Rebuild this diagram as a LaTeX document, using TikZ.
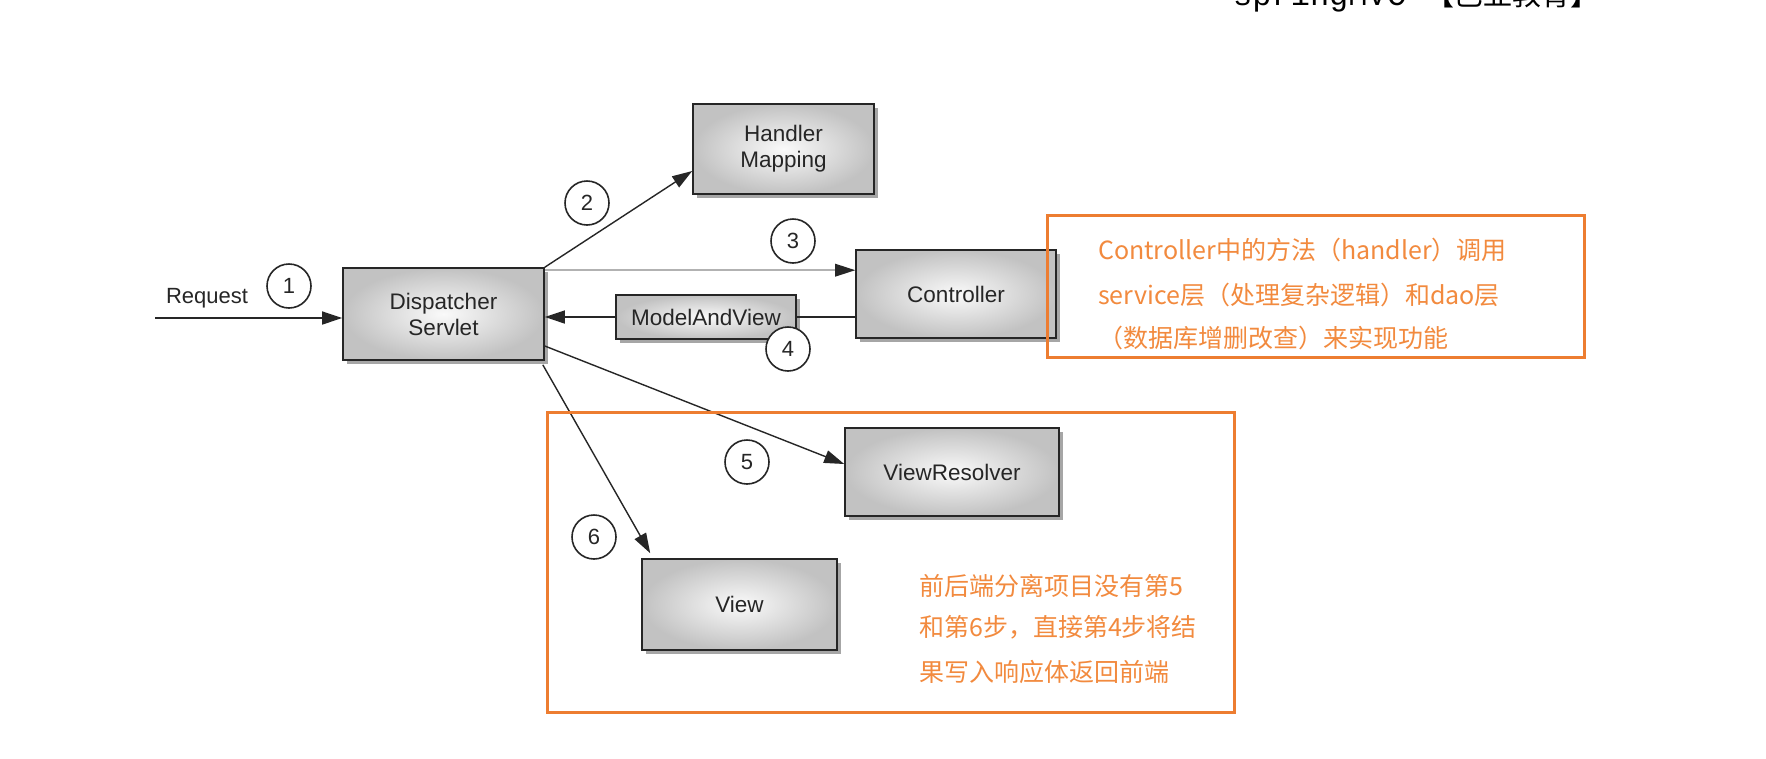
\documentclass[tikz,border=0pt]{standalone}
\usepackage{fontspec}
\setmainfont{Liberation Sans}
\newfontfamily\cjk{Noto Sans CJK SC}
\newfontfamily\monof{Liberation Mono}
\usetikzlibrary{arrows.meta,calc}
\definecolor{orline}{RGB}{237,125,49}
\definecolor{ortext}{RGB}{242,138,62}
\tikzset{
  box/.style={draw=black!85, line width=1.6pt, inner color=gray!4, outer color=gray!48,
    inner sep=0pt, align=center, text=black!85, font=\fontsize{22.5}{26}\selectfont,
    preaction={fill=gray!70, transform canvas={xshift=4pt, yshift=-4pt}}},
  num/.style={circle, draw=black!85, line width=1.6pt, minimum size=44pt, inner sep=0pt,
    fill=white, font=\fontsize{22}{24}\selectfont, text=black!85},
  arr/.style={-{Triangle[length=20pt,width=13pt]}, line width=1.4pt, draw=black!85},
  obox/.style={draw=orline, line width=3pt},
  otext/.style={text=ortext, font=\cjk\fontsize{25}{28}\selectfont, anchor=base west, inner sep=0pt},
}
\begin{document}
\begin{tikzpicture}[x=1pt,y=-1pt]
\clip (0,0) rectangle (1766,758);
\fill[white] (0,0) rectangle (1766,758);

% top (cut-off) title
\node[anchor=base west, inner sep=0pt] (title) at (1233,5)
  {\monof\fontsize{32}{34}\selectfont springMVC {\cjk\fontsize{29}{34}\selectfont 【巴亚教育】}};

% boxes
\node[box, minimum width=181pt, minimum height=90pt] (hm) at (783.5,149) {Handler\\Mapping};
\node[box, minimum width=201pt, minimum height=92pt] (ds) at (443.5,314) {Dispatcher\\Servlet};
\node[box, minimum width=200pt, minimum height=88pt] (ctl) at (956,294) {Controller};
\node[box, minimum width=214pt, minimum height=88pt] (vr) at (952,472) {ViewResolver};
\node[box, minimum width=195pt, minimum height=91pt] (vw) at (739.5,604.5) {View};

% request
\coordinate (req) at (155,318);
\node[font=\fontsize{22}{24}\selectfont, text=black!85, inner sep=0pt] (reqt) at (207,298) {Request};
\draw[arr] (req) -- (req -| ds.west);

% step 2
\draw[arr] (ds.north east) -- ([yshift=-22pt]hm.west);
% step 3
\draw[line width=2pt, draw=gray!60]
  ([yshift=-3pt]ds.north east) -- ([xshift=-10pt,yshift=-3pt]ds.north east -| ctl.west);
\fill[black!85] ([yshift=-3pt]ds.north east -| ctl.west) -- ++(-20,-6.5) -- ++(0,13) -- cycle;
% step 4
\node[box, minimum width=180pt, minimum height=44pt, font=\fontsize{22.5}{26}\selectfont] (mav) at (706,317) {ModelAndView};
\draw[line width=1.4pt, draw=black!85] (mav.east) -- (mav.east -| ctl.west);
\draw[arr] (mav.west) -- (mav.west -| ds.east);
% step 5
\draw[arr] ([yshift=-32pt]ds.east) -- ([yshift=8pt]vr.west);
% step 6
\draw[arr] ([xshift=-2pt,yshift=-4pt]ds.south east) -- ([xshift=9pt,yshift=5pt]vw.north west);

% numbers
\node[num] (n1) at (289,286) {1};
\node[num] (n2) at (587,203) {2};
\node[num] (n3) at (793,241) {3};
\node[num] (n4) at (788,349) {4};
\node[num] (n5) at (747,462) {5};
\node[num] (n6) at (594,537) {6};

% orange annotations
\draw[obox] (1047,215) rectangle (1584,357);
\node[otext] (t11) at (1098,259) {Controller中的方法（handler）调用};
\node[otext] (t12) at (1098,304) {service层（处理复杂逻辑）和dao层};
\node[otext] (t13) at (1098,347) {（数据库增删改查）来实现功能};

\draw[obox] (547,412) rectangle (1234,712);
\node[otext] (t21) at (919,595) {前后端分离项目没有第5};
\node[otext] (t22) at (919,636) {和第6步，直接第4步将结};
\node[otext] (t23) at (919,681) {果写入响应体返回前端};
\end{tikzpicture}
\end{document}
